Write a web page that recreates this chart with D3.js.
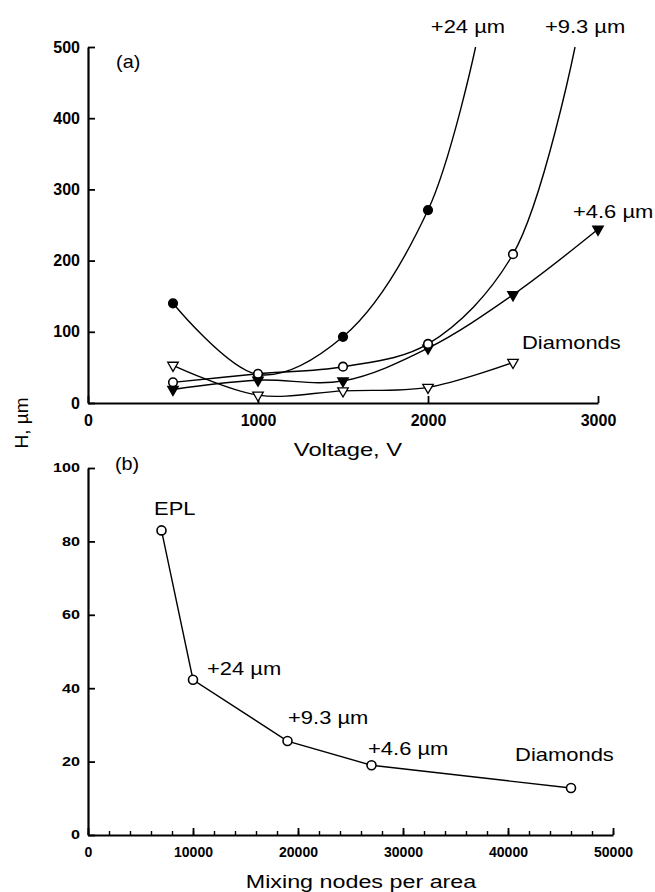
<!DOCTYPE html>
<html>
<head>
<meta charset="utf-8">
<script src="https://cdn.jsdelivr.net/npm/d3@7"></script>
<style>
  html, body { margin: 0; padding: 0; background: #fff; }
  svg { display: block; font-family: "Liberation Sans", Arial, sans-serif; }
  .axis path, .axis line { stroke: #000; }
  .axis text { fill: #000; font-weight: bold; font-family: "Liberation Sans", Arial, sans-serif; }
  .stretch-y text { transform-box: fill-box; transform-origin: 100% 50%; transform: scaleX(1.35); }
</style>
</head>
<body>
<svg id="chart" width="655" height="892"></svg>
<script>
// ---- panel (a): H vs voltage ----
var voltage = [500, 1000, 1500, 2000, 2500, 3000];
var h24 = [140, 40, 93, 271];            // filled circles
var h93 = [29, 41, 51, 83, 209];         // open circles
var h46 = [19, 32, 31, 77, 152, 244];    // filled triangles
var hDia = [53, 11, 17, 22, 57];         // open triangles
// where the fitted curves leave the top of the frame
var exit24 = [2280, 500];
var exit93 = [2865, 500];
var voltTicks = [0, 1000, 2000, 3000];
var hTicksA = [0, 100, 200, 300, 400, 500];

// ---- panel (b): H vs mixing nodes ----
var nodes = [7000, 10000, 19000, 27000, 46000];
var hNodes = [83, 42.3, 25.6, 19, 12.8];
var nodeTicks = [0, 10000, 20000, 30000, 40000, 50000];
var hTicksB = [0, 20, 40, 60, 80, 100];

var namesA = ['(a)', '+24 \u00b5m', '+9.3 \u00b5m', '+4.6 \u00b5m', 'Diamonds'];
var namesB = ['(b)', 'EPL', '+24 \u00b5m', '+9.3 \u00b5m', '+4.6 \u00b5m', 'Diamonds'];

var svg = d3.select('#chart');
var fmt = d3.format('d');

function zip(xs, ys) { return ys.map(function (y, i) { return [xs[i], y]; }); }

// stretched text, the scan is wider than the font
function label(g, x, y, str, size, sx, anchor, weight) {
  return g.append('text')
    .attr('transform', 'translate(' + x + ',' + y + ') scale(' + sx + ',1)')
    .attr('text-anchor', anchor || 'start')
    .style('font-size', size + 'px')
    .style('font-weight', weight || 'normal')
    .text(str);
}

function frame(g, x, y, xt, yt, xFont, yFont, xMinor) {
  var ax = g.append('g').attr('class', 'axis').attr('transform', 'translate(0,' + y.range()[0] + ')');
  if (xMinor) {
    ax.append('g').call(d3.axisBottom(x).tickValues(xMinor).tickSize(-4).tickFormat(''))
      .call(function (s) { s.select('.domain').remove(); s.selectAll('line').attr('stroke-width', 1.4); });
  }
  ax.append('g').call(d3.axisBottom(x).tickValues(xt).tickFormat(fmt).tickSizeInner(-7).tickSizeOuter(0).tickPadding(12))
    .call(function (s) {
      s.select('.domain').attr('stroke-width', 2.2);
      s.selectAll('line').attr('stroke-width', 1.8);
      s.selectAll('text').style('font-size', xFont + 'px');
    });
  var ay = g.append('g').attr('class', 'axis').attr('transform', 'translate(' + x.range()[0] + ',0)');
  ay.call(d3.axisLeft(y).tickValues(yt).tickFormat(fmt).tickSizeInner(-7).tickSizeOuter(0).tickPadding(8))
    .call(function (s) {
      s.select('.domain').attr('stroke-width', 2.2);
      s.selectAll('line').attr('stroke-width', 1.8);
      s.selectAll('text').style('font-size', yFont + 'px');
    });
  return ay;
}

// ===== panel (a) =====
var xA = d3.scaleLinear().domain([0, 3000]).range([88, 598]);
var yA = d3.scaleLinear().domain([0, 500]).range([403, 47]);
var gA = svg.append('g');
frame(gA, xA, yA, voltTicks, hTicksA, 16, 16, null);

var lineA = d3.line().x(function (d) { return xA(d[0]); }).y(function (d) { return yA(d[1]); })
  .curve(d3.curveCatmullRom.alpha(0.5));

var seriesA = [
  { pts: zip(voltage, h24), curve: zip(voltage, h24).concat([exit24]), sym: 'circle', fill: '#000' },
  { pts: zip(voltage, h46), curve: zip(voltage, h46), sym: 'tri', fill: '#000' },
  { pts: zip(voltage, hDia), curve: zip(voltage, hDia), sym: 'tri', fill: '#fff' },
  { pts: zip(voltage, h93), curve: zip(voltage, h93).concat([exit93]), sym: 'circle', fill: '#fff' }
];

seriesA.forEach(function (s) {
  gA.append('path').attr('d', lineA(s.curve)).attr('fill', 'none')
    .attr('stroke', '#000').attr('stroke-width', 1.4);
});
seriesA.forEach(function (s) {
  var m = gA.append('g').selectAll('path').data(s.pts).enter();
  if (s.sym === 'circle') {
    m.append('circle').attr('cx', function (d) { return xA(d[0]); }).attr('cy', function (d) { return yA(d[1]); })
      .attr('r', 4.3).attr('fill', s.fill).attr('stroke', '#000').attr('stroke-width', 1.6);
  } else {
    m.append('path').attr('d', d3.symbol(d3.symbolTriangle, 48)())
      .attr('transform', function (d) { return 'translate(' + xA(d[0]) + ',' + yA(d[1]) + ') rotate(180)'; })
      .attr('fill', s.fill).attr('stroke', '#000').attr('stroke-width', 1.3);
  }
});

// label positions in data units
var posA = [[165, 470, 'start'], [2235, 520, 'middle'], [2924, 520, 'middle'], [2853, 260, 'start'], [2553, 76, 'start']];
namesA.forEach(function (t, i) {
  var p = posA[i];
  label(gA, xA(p[0]), yA(p[1]), t, 18, i === 0 ? 1.1 : 1.22, p[2]);
});
label(gA, 348, 456, 'Voltage, V', 19, 1.25, 'middle');

svg.append('text').attr('transform', 'translate(28,423) rotate(-90)')
  .attr('text-anchor', 'middle').style('font-size', '19px').text('H, \u00b5m');

// ===== panel (b) =====
var xB = d3.scaleLinear().domain([0, 50000]).range([88, 613]);
var yB = d3.scaleLinear().domain([0, 100]).range([835, 468]);
var gB = svg.append('g');
var ayB = frame(gB, xB, yB, nodeTicks, hTicksB, 14, 12, d3.range(0, 50001, 2000));
ayB.classed('stretch-y', true);

var lineB = d3.line().x(function (d) { return xB(d[0]); }).y(function (d) { return yB(d[1]); });
var ptsB = zip(nodes, hNodes);
gB.append('path').attr('d', lineB(ptsB)).attr('fill', 'none')
  .attr('stroke', '#000').attr('stroke-width', 1.4);
gB.selectAll('circle.pt').data(ptsB).enter().append('circle').attr('class', 'pt')
  .attr('cx', function (d) { return xB(d[0]); }).attr('cy', function (d) { return yB(d[1]); })
  .attr('r', 4.5).attr('fill', '#fff').attr('stroke', '#000').attr('stroke-width', 1.6);

var posB = [[2570, 99.5], [6290, 87.2], [11330, 43.6], [19050, 30.2], [26670, 21.8], [40670, 20.2]];
namesB.forEach(function (t, i) {
  label(gB, xB(posB[i][0]), yB(posB[i][1]), t, 18, i === 0 ? 1.1 : 1.22, 'start');
});
label(gB, 361, 888, 'Mixing nodes per area', 18.5, 1.26, 'middle');
</script>
</body>
</html>
